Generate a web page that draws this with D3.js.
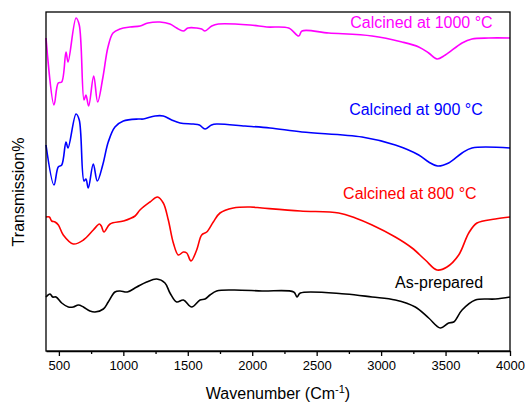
<!DOCTYPE html>
<html lang="en">
<head>
<meta charset="utf-8">
<script src="https://d3js.org/d3.v7.min.js"></script>
<title>FTIR spectra</title>
<style type="text/css">
body {
	margin: 0;
	background-color: #ffffff;
	font-family: Arial, "Liberation Sans", sans-serif;
}
.axis text {
	font: 13px Arial, "Liberation Sans", sans-serif;
	fill: #000;
}
.axis line, .axis path {
	stroke: #000;
	stroke-width: 1.3;
}
</style>
</head>
<body>
<script type="text/javascript">
// wavenumber ticks
var majorTicks = [500, 1000, 1500, 2000, 2500, 3000, 3500, 4000];
var minorTicks = [750, 1250, 1750, 2250, 2750, 3250, 3750];

// spectra, transmission in arbitrary units (no y scale in the figure)
var wn1000 = [400, 462, 495, 522, 555, 571, 633, 658, 695, 710, 731, 770, 801, 842, 881, 920, 974, 1052, 1130, 1191, 1284, 1362, 1414, 1465, 1501, 1569, 1608, 1633, 1686, 1737, 1983, 2112, 2283, 2361, 2386, 2594, 2930, 3162, 3292, 3369, 3434, 3498, 3628, 3705, 3835, 4000];
var tr1000 = [313, 246, 268, 269, 299, 289, 333, 326, 251, 256, 245, 275, 249, 274, 304, 318, 322, 324, 325, 328, 329, 327, 323, 320, 323, 323, 322, 320, 325, 327, 326, 324, 323, 315, 320, 318, 315, 309, 304, 298, 292, 296, 308, 312, 313, 313];

var wn900 = [400, 462, 495, 522, 555, 571, 633, 658, 695, 710, 728, 767, 798, 840, 883, 935, 1000, 1116, 1155, 1246, 1310, 1375, 1440, 1543, 1590, 1634, 1684, 1724, 1944, 2138, 2386, 2852, 3110, 3292, 3369, 3439, 3524, 3628, 3705, 4000];
var tr900 = [206, 166, 184, 186, 209, 203, 237, 231, 170, 172, 163, 187, 170, 186, 209, 224, 230, 232, 232, 235, 235, 231, 228, 227, 226, 222, 226, 227, 225, 223, 219, 214, 206, 196, 189, 185, 188, 198, 203, 203];

var wn800 = [400, 426, 444, 470, 496, 534, 612, 690, 767, 814, 829, 850, 897, 1000, 1091, 1129, 1207, 1265, 1310, 1349, 1388, 1427, 1466, 1492, 1525, 1569, 1608, 1647, 1698, 1750, 1853, 1983, 2076, 2373, 2671, 2800, 2930, 3110, 3240, 3343, 3434, 3511, 3602, 3680, 3744, 3886, 4000];
var tr800 = [134, 134, 130, 129, 126, 116, 107, 111, 121, 127, 125, 119, 127, 130, 135, 141, 149, 154, 148, 131, 108, 96, 99, 98, 90, 101, 116, 119, 129, 138, 143, 144, 143, 140, 138, 133, 126, 114, 103, 91, 81, 84, 96, 118, 128, 132, 134];

var wnAs = [400, 431, 452, 478, 522, 573, 612, 651, 690, 741, 780, 845, 883, 935, 974, 1031, 1104, 1181, 1259, 1323, 1362, 1414, 1466, 1530, 1595, 1634, 1672, 1724, 1853, 2076, 2322, 2348, 2373, 2723, 2930, 3110, 3265, 3369, 3460, 3524, 3563, 3628, 3731, 3886, 4000];
var trAs = [54, 57, 54, 54, 48, 44, 44, 46, 44, 40, 39, 42, 49, 59, 60, 59, 64, 69, 72, 68, 58, 49, 51, 44, 51, 52, 56, 60, 61, 60, 59, 54, 58, 57, 54, 51, 44, 33, 23, 28, 29, 41, 51, 52, 54];

var seriesNames = ["Calcined at 1000 °C", "Calcined at 900 °C", "Calcined at 800 °C", "As-prepared"];
var seriesColors = ["#ff00ff", "#0000ff", "#ff0000", "#000000"];
// label anchor points (wavenumber, transmission)
var labelWn = [2760, 2752, 2705, 3108];
var labelTr = [323, 236, 152, 63];

var width = 525, height = 403;
var margin = {top: 12, right: 15, bottom: 52, left: 46};
var w = width - margin.left - margin.right;
var h = height - margin.top - margin.bottom;

var svg = d3.select("body")
  .append("svg")
  .attr("width", width)
  .attr("height", height);

var g = svg.append("g")
  .attr("transform", "translate(" + margin.left + "," + margin.top + ")");

var x = d3.scaleLinear().domain([400, 4000]).range([0, w]);
var y = d3.scaleLinear().domain([0, 339]).range([h, 0]);

var spectra = [
  {wn: wn1000, tr: tr1000},
  {wn: wn900, tr: tr900},
  {wn: wn800, tr: tr800},
  {wn: wnAs, tr: trAs}
];

var line = d3.line()
  .x(function(d) { return x(d[0]); })
  .y(function(d) { return y(d[1]); })
  .curve(d3.curveCatmullRom.alpha(0.5));

g.selectAll(".spectrum")
  .data(spectra)
  .enter()
  .append("path")
  .attr("class", "spectrum")
  .attr("d", function(s) { return line(d3.zip(s.wn, s.tr)); })
  .style("fill", "none")
  .style("stroke", function(s, i) { return seriesColors[i]; })
  .style("stroke-width", 1.6)
  .style("stroke-linejoin", "round");

// minor ticks
g.append("g")
  .attr("class", "axis")
  .attr("transform", "translate(0," + h + ")")
  .call(d3.axisBottom(x).tickValues(minorTicks).tickSize(3).tickFormat(""))
  .select(".domain").remove();

// major ticks + labels
g.append("g")
  .attr("class", "x axis")
  .attr("transform", "translate(0," + h + ")")
  .call(d3.axisBottom(x).tickValues(majorTicks).tickSize(5).tickPadding(5).tickSizeOuter(0).tickFormat(d3.format("d")));

// frame
g.append("rect")
  .attr("width", w)
  .attr("height", h)
  .style("fill", "none")
  .style("stroke", "#000")
  .style("stroke-width", 1.3);

// series labels
g.selectAll(".label")
  .data(seriesNames)
  .enter()
  .append("text")
  .attr("class", "label")
  .attr("x", function(d, i) { return x(labelWn[i]); })
  .attr("y", function(d, i) { return y(labelTr[i]); })
  .style("font-size", "16px")
  .style("fill", function(d, i) { return seriesColors[i]; })
  .text(function(d) { return d; });

// axis titles
var xt = svg.append("text")
  .attr("x", margin.left + w / 2)
  .attr("y", 399)
  .attr("text-anchor", "middle")
  .style("font-size", "16px");
xt.append("tspan").text("Wavenumber (Cm");
xt.append("tspan").attr("dy", -6).style("font-size", "11px").text("-1");
xt.append("tspan").attr("dy", 6).text(")");

svg.append("text")
  .attr("transform", "translate(24," + 192 + ") rotate(-90)")
  .attr("text-anchor", "middle")
  .style("font-size", "16px")
  .text("Transmission%");
</script>
</body>
</html>
